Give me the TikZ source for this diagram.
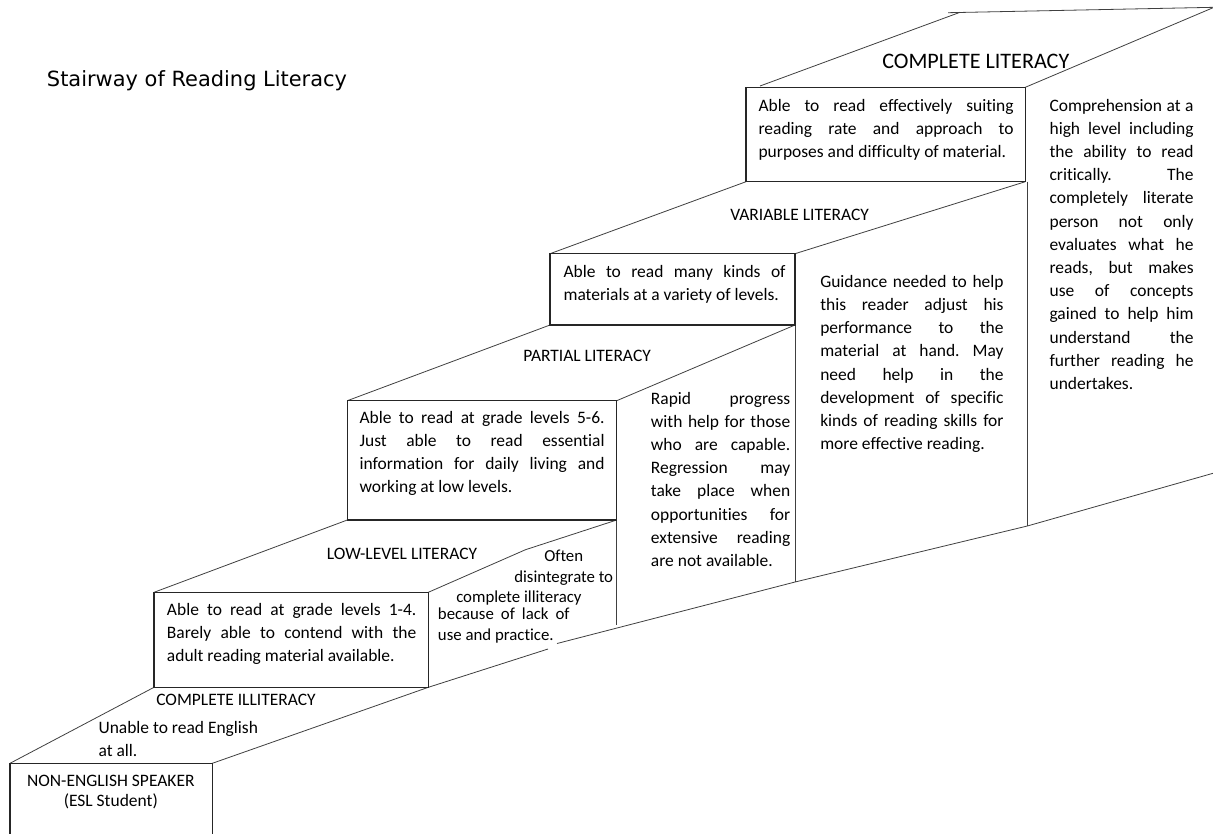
\documentclass[tikz,border=0pt]{standalone}
\usepackage{fontspec}
\setmainfont{Carlito}[Ligatures={NoCommon}]
\newfontfamily\titlefont{DejaVu Sans}
\frenchspacing
% one stretched (justified) line of a text block
\newcommand\jl[1]{\makebox[\hsize][s]{#1}\\}
\newcommand\bodysize{\fontsize{13.1pt}{17.4pt}\selectfont}
\newcommand\smallbody{\fontsize{12.6pt}{15.4pt}\selectfont}
% text block of a given width in px, first baseline at the node's base
\newcommand\blockw[2]{\parbox[t]{\dimexpr#1pt*3/4\relax}{\bodysize #2}}
\begin{document}
\begin{tikzpicture}[x=0.75pt,y=-0.75pt,
  boxline/.style={draw=black!85,line width=1pt},
  stairline/.style={draw=black!75,line width=0.6pt},
  txt/.style={anchor=base west,inner sep=0pt,font=\bodysize},
  levellabel/.style={anchor=base west,inner sep=0pt,font=\bodysize},
  notetxt/.style={anchor=base west,inner sep=0pt,font=\smallbody}]
\fill[white] (0,0) rectangle (1213,833);
\useasboundingbox (0,0) rectangle (1213,833);

% ---- corners of the step fronts ----
\coordinate (b0tl) at (10,763.3);   \coordinate (b0tr) at (212.3,763.3);
\coordinate (b0bl) at (10,833.5);   \coordinate (b0br) at (212.3,833.5);
\coordinate (b1tl) at (154,592.3);  \coordinate (b1tr) at (428.3,592.3);
\coordinate (b1bl) at (154,687.3);  \coordinate (b1br) at (428.3,687.3);
\coordinate (b2tl) at (347.3,400.7);\coordinate (b2tr) at (616.7,400.7);
\coordinate (b2bl) at (347.3,520);  \coordinate (b2br) at (616.7,520);
\coordinate (b3tl) at (550,253.7);  \coordinate (b3tr) at (795,253.7);
\coordinate (b3bl) at (550,325);    \coordinate (b3br) at (795,325);
\coordinate (b4tl) at (746,87.3);   \coordinate (b4tr) at (1025.3,87.3);
\coordinate (b4bl) at (746,181.7);  \coordinate (b4br) at (1025.3,181.7);

% ---- points of the treads and side faces ----
\coordinate (k1) at (525.5,549.7);
\coordinate (v1) at (616.7,625);
\coordinate (e1) at (548,649);
\coordinate (s2) at (557,643.5);
\coordinate (v2) at (795,582);
\coordinate (v3top) at (1027.3,181.7);
\coordinate (v3) at (1027.3,526);
\coordinate (rb) at (1214,473);
\coordinate (t4a) at (760,86);
\coordinate (t4b) at (960,12.3);
\coordinate (t4c) at (948,12.7);
\coordinate (rt) at (1214,7.3);

% treads
\draw[stairline] (b0tl) -- (b1bl);
\draw[stairline] (b0tr) -- (b1br);
\draw[stairline] (b1tl) -- (b2bl);
\draw[stairline] (b1tr) -- (k1) -- (b2br);
\draw[stairline] (b2tl) -- (b3bl);
\draw[stairline] (b2tr) -- (b3br);
\draw[stairline] (b3tl) -- (b4bl);
\draw[stairline] (b3tr) -- (b4br);
\draw[stairline] (t4a) -- (t4b);
\draw[stairline] (t4c) -- (rt);
\draw[stairline] (b4tr) -- (rt);
% side faces
\draw[stairline] (b2br) -- (v1);
\draw[stairline] (b1br) -- (e1);
\draw[stairline] (s2) -- (v2);
\draw[stairline] (b3br) -- (v2);
\draw[stairline] (v2) -- (v3);
\draw[stairline] (v3top) -- (v3);
\draw[stairline] (v3) -- (rb);

% step fronts
\draw[boxline] (b0bl) -- (b0tl) -- (b0tr) -- (b0br);
\draw[boxline] (b1tl) rectangle (b1br);
\draw[boxline] (b2tl) rectangle (b2br);
\draw[boxline] (b3tl) rectangle (b3br);
\draw[boxline] (b4tl) rectangle (b4br);

% ---- title ----
\node[anchor=base west,inner sep=0pt,font=\titlefont\fontsize{15.7pt}{18pt}\selectfont]
  (title) at (46.7,86.7) {Stairway of Reading Literacy};

% ---- level names ----
\node[levellabel,font=\fontsize{16.6pt}{20pt}\selectfont] (lvl4) at (882,68.3) {COMPLETE LITERACY};
\node[levellabel] (lvl3) at (730,220.7) {VARIABLE LITERACY};
\node[levellabel] (lvl2) at (523,361.7) {PARTIAL LITERACY};
\node[levellabel] (lvl1) at (326.7,559.3) {LOW-LEVEL LITERACY};
\node[levellabel] (lvl0) at (156,705) {COMPLETE ILLITERACY};

% ---- step fronts' texts ----
\node[txt] (t4) at (758.3,111) {\blockw{255}{%
  \jl{Able to read effectively suiting}%
  \jl{reading rate and approach to}%
  purposes and difficulty of material.}};
\node[txt] (t3) at (563.3,277) {\blockw{222}{%
  \jl{Able to read many kinds of}%
  materials at a variety of levels.}};
\node[txt] (t2) at (359.3,423.3) {\blockw{245}{%
  \jl{Able to read at grade levels 5-6.}%
  \jl{Just able to read essential}%
  \jl{information for daily living and}%
  working at low levels.}};
\node[txt] (t1) at (166.7,615) {\blockw{249.3}{%
  \jl{Able to read at grade levels 1-4.}%
  \jl{Barely able to contend with the}%
  adult reading material available.}};
\node[inner sep=0pt,anchor=base] (t0) at (110.8,786) {\parbox[t]{150pt}{\centering
  \fontsize{13.1pt}{15.5pt}\selectfont NON-ENGLISH SPEAKER\\(ESL Student)}};

% ---- side texts ----
\node[txt] (s4) at (1049.3,111) {\blockw{144}{%
  \jl{Comprehension at a}%
  \jl{high level including}%
  \jl{the ability to read}%
  \jl{critically. The}%
  \jl{completely literate}%
  \jl{person not only}%
  \jl{evaluates what he}%
  \jl{reads, but makes}%
  \jl{use of concepts}%
  \jl{gained to help him}%
  \jl{understand the}%
  \jl{further reading he}%
  undertakes.}};
\node[txt] (s3) at (820,287.3) {\blockw{183.3}{%
  \jl{Guidance needed to help}%
  \jl{this reader adjust his}%
  \jl{performance to the}%
  \jl{material at hand. May}%
  \jl{need help in the}%
  \jl{development of specific}%
  \jl{kinds of reading skills for}%
  more effective reading.}};
\node[txt] (s2t) at (650.7,404) {\blockw{139.3}{%
  \jl{Rapid progress}%
  \jl{with help for those}%
  \jl{who are capable.}%
  \jl{Regression may}%
  \jl{take place when}%
  \jl{opportunities for}%
  \jl{extensive reading}%
  are not available.}};
\node[notetxt] (s1a) at (544,561.7) {Often};
\node[notetxt] (s1b) at (514,582.3) {disintegrate to};
\node[notetxt] (s1c) at (456,602.3) {complete illiteracy};
\node[notetxt] (s1d) at (437.7,619.3) {\makebox[\dimexpr131.6pt*3/4\relax][s]{because of lack of}};
\node[notetxt] (s1e) at (437.7,640) {use and practice.};
\node[txt] (s0) at (98.3,733.3) {\parbox[t]{130pt}{\fontsize{13.1pt}{17.5pt}\selectfont
  Unable to read English\\at all.}};
\end{tikzpicture}
\end{document}
